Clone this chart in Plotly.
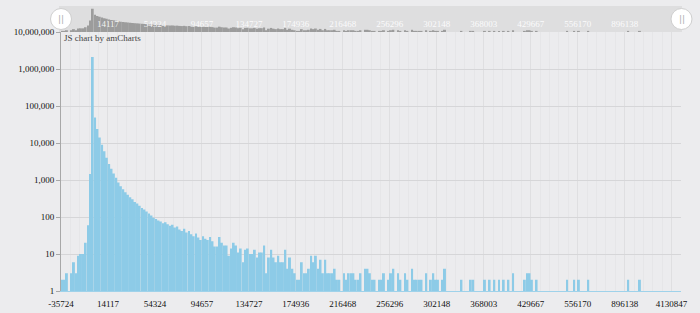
import plotly.graph_objects as go

# ---- data -------------------------------------------------------------
TICK_LABELS = ["-35724", "14117", "54324", "94657", "134727", "174936", "216468",
               "256296", "302148", "368003", "429667", "556170", "896138", "4130847"]
LABEL_STEP = 20          # one label every 20 bins

N = None
COUNTS = [
    # 0-19
    2, 2, 3, N, 3, 6, 3, 9, 10, 10, 20, 60, 1450, 2100000, 49000, 24000, 14000, 9000, 6000, 4000,
    # 20-39
    2700, 2000, 1500, 1150, 850, 680, 560, 470, 400, 340, 300, 255, 230, 200, 175, 160, 140, 125, 110, 96,
    # 40-59
    88, 80, 75, 68, 72, 64, 58, 62, 52, 55, 46, 42, 48, 38, 42, 34, 30, 36, 28, 24,
    # 60-79
    30, 26, 24, 29, 22, 16, 16, 29, 20, 17, 17, 9, 14, 20, 17, 11, 14, 6, 13, 14,
    # 80-99
    10, 10, 13, 8, 11, 11, 17, 3, 8, 13, 8, 6, 9, 6, 6, 13, 4, 8, 4, 3,
    # 100-119
    2, 2, 6, 3, 3, 4, 9, 6, 9, 4, 7, 3, 7, 3, 3, 3, 4, 2, 2, N,
    # 120-139
    3, 2, 3, 3, 3, 2, 2, 3, N, 4, 4, 3, 2, 2, N, 2, 2, 3, N, 2,
    # 140-159
    3, 4, N, 3, 2, N, 3, 2, N, 4, 2, 2, 2, 2, N, 3, N, 2, 3, 2,
    # 160-179
    2, N, 2, 4, N, N, N, N, N, N, 2, N, N, N, 2, 2, N, N, N, N,
    # 180-199
    2, N, 2, N, 2, N, 2, N, 2, N, 2, N, 3, N, N, N, N, 2, 3, 3,
    # 200-219
    2, N, 2, N, N, N, N, N, N, N, N, N, N, N, N, 2, N, N, 2, N,
    # 220-239
    2, N, N, N, 2, N, N, N, N, N, N, N, N, N, N, N, N, N, N, N,
    # 240-263
    N, 2, N, N, N, N, 2, N, N, N, N, N, N, N, N, N, N, N, N, N, N, N, N, N,
]
NBINS = len(COUNTS)
BINS = list(range(NBINS))

# ---- layout helpers (pixels -> paper) ---------------------------------
W, H = 700, 313
def px(x):
    return x / W
def py(y):
    return (H - y) / H

FONT = "Liberation Serif"
tickvals = [i * LABEL_STEP - 0.5 for i in range(len(TICK_LABELS))]

fig = go.Figure()
fig.add_trace(go.Bar(x=BINS, y=COUNTS, marker=dict(color="#8DCBE7", line=dict(width=0)),
                     xaxis="x", yaxis="y", hoverinfo="x+y"))
fig.add_trace(go.Bar(x=BINS, y=COUNTS, marker=dict(color="#9C9C9C", line=dict(width=0)),
                     xaxis="x2", yaxis="y2", hoverinfo="skip"))

fig.update_layout(
    width=W, height=H,
    margin=dict(l=0, r=0, t=0, b=0, autoexpand=False),
    paper_bgcolor="#ECECEE",
    plot_bgcolor="rgba(0,0,0,0)",
    showlegend=False,
    bargap=0.16,
    xaxis=dict(
        domain=[px(61), px(681)], range=[-0.5, NBINS - 0.5], anchor="y",
        tickmode="array", tickvals=tickvals, ticktext=TICK_LABELS,
        showgrid=True, gridcolor="#DFDFE1", gridwidth=1,
        minor=dict(tickmode="linear", tick0=-0.5, dtick=4, showgrid=True,
                   gridcolor="#E6E6E8", gridwidth=1),
        showline=True, linecolor="#9FD2EA", linewidth=1,
        ticks="", ticklabelstandoff=4, automargin=False,
        tickfont=dict(family=FONT, size=9, color="#111"),
        zeroline=False, fixedrange=True,
    ),
    yaxis=dict(
        domain=[py(291), py(32)], type="log", range=[0, 7], dtick=1,
        tickformat=",d", anchor="x", automargin=False,
        showgrid=True, gridcolor="#D6D6D8", gridwidth=1,
        showline=True, linecolor="#A8A8A8", linewidth=1,
        ticks="outside", ticklen=4, tickcolor="#A8A8A8",
        tickfont=dict(family=FONT, size=9, color="#111"),
        zeroline=False, fixedrange=True,
    ),
    xaxis2=dict(
        domain=[px(61), px(681)], range=[-0.5, NBINS - 0.5], anchor="y2",
        tickmode="array", tickvals=tickvals, ticktext=TICK_LABELS,
        ticklabelposition="inside", ticks="", automargin=False,
        tickfont=dict(family=FONT, size=9, color="rgba(255,255,255,0.9)"),
        showgrid=False, showline=False, zeroline=False, fixedrange=True,
    ),
    yaxis2=dict(
        domain=[py(32), py(6)], type="log", range=[0, 7.1], anchor="x2",
        showgrid=False, showline=False, showticklabels=False, ticks="",
        zeroline=False, fixedrange=True, automargin=False,
    ),
    shapes=[
        dict(type="rect", xref="paper", yref="paper", x0=px(59), x1=px(682),
             y0=py(32), y1=py(6), fillcolor="#DEDEDF", line=dict(width=0), layer="below"),
        dict(type="circle", xref="paper", yref="paper", x0=px(50.5), x1=px(71.5),
             y0=py(29.5), y1=py(8.5), fillcolor="#FFFFFF", line=dict(color="#CFCFCF", width=1),
             layer="above"),
        dict(type="circle", xref="paper", yref="paper", x0=px(671), x1=px(692),
             y0=py(29.5), y1=py(8.5), fillcolor="#FFFFFF", line=dict(color="#CFCFCF", width=1),
             layer="above"),
    ],
    annotations=[
        dict(text="JS chart by amCharts", xref="paper", yref="paper", x=px(62), y=py(38),
             xanchor="left", yanchor="middle", showarrow=False,
             font=dict(family=FONT, size=9, color="#444")),
        dict(text="||", xref="paper", yref="paper", x=px(61), y=py(19),
             xanchor="center", yanchor="middle", showarrow=False,
             font=dict(family="DejaVu Sans", size=9, color="#B0B0B0")),
        dict(text="||", xref="paper", yref="paper", x=px(681.5), y=py(19),
             xanchor="center", yanchor="middle", showarrow=False,
             font=dict(family="DejaVu Sans", size=9, color="#B0B0B0")),
    ],
)

fig.write_html("out.html")
